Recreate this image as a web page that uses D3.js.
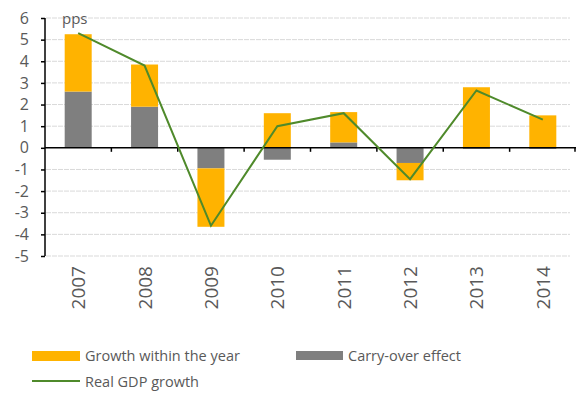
<!DOCTYPE html>
<html><head><meta charset="utf-8">
<script src="https://cdn.jsdelivr.net/npm/d3@7"></script>
<style>body{margin:0;background:#fff}svg{display:block}text{font-family:"Open Sans","Liberation Sans",sans-serif}</style>
</head><body><svg id="c" width="576" height="394"></svg>
<script>
const years = ["2007","2008","2009","2010","2011","2012","2013","2014"];
const carryOver = [2.6, 1.9, -0.95, -0.55, 0.25, -0.7, -0.05, -0.05];
const withinYear = [2.65, 1.95, -2.7, 1.6, 1.4, -0.8, 2.8, 1.5];
const gdpGrowth = [5.3, 3.8, -3.6, 1.0, 1.6, -1.45, 2.65, 1.3];
const yTicks = [-5,-4,-3,-2,-1,0,1,2,3,4,5,6];

const svg = d3.select("#c");
const xb = d3.scaleBand().domain(years).range([45, 576]);
const y = d3.scaleLinear().domain([-5, 6]).range([256, 18]);
const cOrange = "#FFB300", cGray = "#7F7F7F", cGreen = "#4F8A2B";

// gridlines
svg.append("g").selectAll("line").data(yTicks.filter(d => d !== 0)).join("line")
  .attr("x1", 46).attr("x2", 570).attr("y1", d => y(d)).attr("y2", d => y(d))
  .attr("stroke", "#d9d9d9").attr("stroke-width", 1).attr("stroke-dasharray", "5,1");

// stacked bars
years.forEach((yr, i) => {
  const c = carryOver[i], w = withinYear[i];
  const bx = xb(yr) + xb.bandwidth()/2 - 13.5, bw = 27;
  svg.append("rect").attr("x", bx).attr("width", bw)
    .attr("y", y(Math.max(0, c))).attr("height", Math.abs(y(c) - y(0))).attr("fill", cGray);
  let base = (Math.sign(w) === Math.sign(c)) ? c : 0;
  const top = base + w;
  svg.append("rect").attr("x", bx).attr("width", bw)
    .attr("y", y(Math.max(base, top))).attr("height", Math.abs(y(top) - y(base))).attr("fill", cOrange);
});

// y axis
const yAxis = d3.axisLeft(y).tickValues(yTicks).tickSize(4).tickPadding(12).tickFormat(d => String(d));
const ga = svg.append("g").attr("transform", "translate(45,0)").call(yAxis);
ga.select(".domain").attr("stroke", "#000").attr("stroke-width", 1.5).attr("d", `M0,${y(6)}V${y(-5)}`);
ga.selectAll(".tick line").attr("stroke", "#000").attr("stroke-width", 1.5);
ga.selectAll(".tick text").attr("fill", "#595959").style("font-size", "16px").style("font-family", "'Open Sans',sans-serif");

// zero axis
const xAxisG = svg.append("g").attr("transform", `translate(0,${y(0)})`);
xAxisG.append("line").attr("x1", 45).attr("x2", 576).attr("stroke", "#000").attr("stroke-width", 1.5);
xAxisG.selectAll("line.t").data(years.slice(1).concat(["end"])).join("line").attr("class","t")
  .attr("x1", (d,i) => i < years.length-1 ? xb(d) : 575).attr("x2", (d,i) => i < years.length-1 ? xb(d) : 575)
  .attr("y1", 0).attr("y2", 4).attr("stroke", "#000").attr("stroke-width", 1.5);

// x labels
svg.append("g").selectAll("text").data(years).join("text")
  .attr("transform", d => `translate(${xb(d) + xb.bandwidth()/2 + 7},266) rotate(-90)`)
  .attr("text-anchor", "end").attr("fill", "#595959").style("font-size", "19px").text(d => d);

// line
const line = d3.line().x((d,i) => xb(years[i]) + xb.bandwidth()/2).y(d => y(d));
svg.append("path").datum(gdpGrowth).attr("d", line).attr("fill", "none")
  .attr("stroke", cGreen).attr("stroke-width", 2);

// pps label
svg.append("text").attr("x", 62).attr("y", 24).attr("fill", "#595959").style("font-size", "15px").text("pps");

// legend
const lg = svg.append("g");
lg.append("rect").attr("x", 32).attr("y", 351).attr("width", 48).attr("height", 10).attr("fill", cOrange);
lg.append("text").attr("x", 85).attr("y", 361).attr("fill", "#595959").style("font-size", "14.5px").text("Growth within the year");
lg.append("rect").attr("x", 296).attr("y", 351).attr("width", 47).attr("height", 9).attr("fill", cGray);
lg.append("text").attr("x", 348).attr("y", 361).attr("fill", "#595959").style("font-size", "14.5px").text("Carry-over effect");
lg.append("line").attr("x1", 32).attr("x2", 80).attr("y1", 381).attr("y2", 381).attr("stroke", cGreen).attr("stroke-width", 2);
lg.append("text").attr("x", 85).attr("y", 387).attr("fill", "#595959").style("font-size", "14.5px").text("Real GDP growth");
</script></body></html>
